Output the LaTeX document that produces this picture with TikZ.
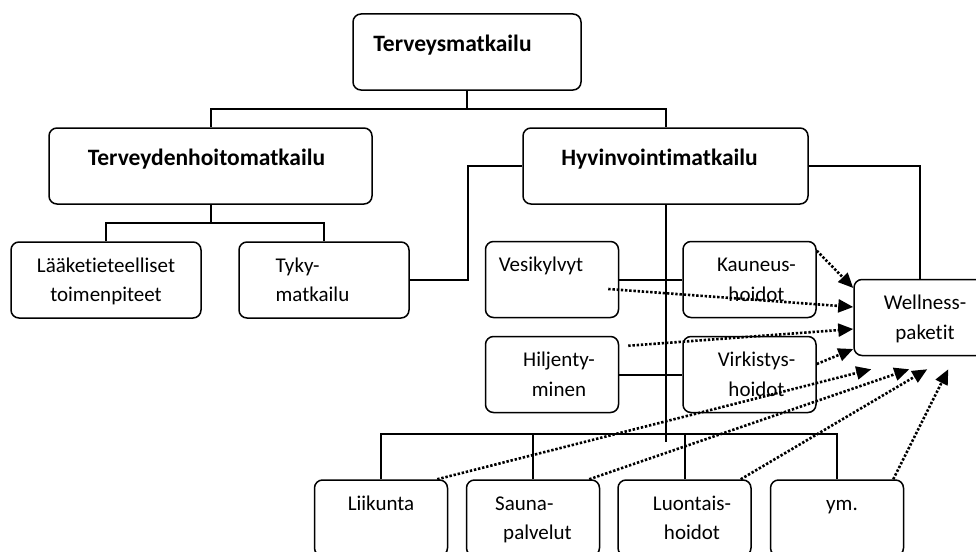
\documentclass[tikz,border=0pt]{standalone}
\usepackage{fontspec}
\setmainfont{Carlito}[Ligatures=NoCommon]
\usetikzlibrary{arrows.meta}

\begin{document}
\begin{tikzpicture}[x=1pt,y=-1pt,
  box/.style={draw,rounded corners=8pt,line width=1.5pt,minimum width=133pt,minimum height=76pt},
  txt/.style={anchor=north,inner sep=0pt,yshift=-10pt,align=center,font=\fontsize{21}{29.5}\selectfont},
  head/.style={txt,yshift=-7pt,font=\fontsize{23.5}{29.5}\selectfont\bfseries},
  link/.style={line width=2pt},
  dots/.style={line width=2.6pt,dash pattern=on 2.4pt off 1.8pt,-{Triangle[length=15pt,width=13pt]}}]
\useasboundingbox (0,0) rectangle (976,551);

% main levels
\node[box,minimum width=228pt] (top) at (467,52) {};
\node[head,xshift=-14.5pt] (top-t) at (top.north) {\strut Terveysmatkailu};
\node[box,minimum width=323pt] (hoito) at (210.5,166) {};
\node[head,xshift=-4pt] (hoito-t) at (hoito.north) {\strut Terveydenhoitomatkailu};
\node[box,minimum width=285pt] (hyvin) at (665.5,166) {};
\node[head,xshift=-6pt] (hyvin-t) at (hyvin.north) {\strut Hyvinvointimatkailu};

% left branch
\node[box,minimum width=190pt] (laake) at (106,280) {};
\node[txt] (laake-t) at (laake.north) {\strut Lääketieteelliset\\toimenpiteet};
\node[box,minimum width=170pt] (tyky) at (324,280) {};
\node[txt,align=left,xshift=-11.5pt] (tyky-t) at (tyky.north) {\strut Tyky-\\matkailu};

% right branch
\foreach \name/\x/\y in {vesi/552/279.5, kauneus/749.5/279.5, hiljenty/552/374.5, virkistys/749.5/374.5}
  \node[box] (\name) at (\x,\y) {};
\node[box,minimum width=131pt] (wellness) at (919.5,317.5) {};
\foreach \name/\x in {liikunta/381, sauna/533, luontais/684.5, ym/837}
  \node[box] (\name) at (\x,518) {};

\node[txt,xshift=-11pt] (vesi-t) at (vesi.north) {\strut Vesikylvyt};
\node[txt,xshift=7pt] (kauneus-t) at (kauneus.north) {\strut Kauneus-\\hoidot};
\node[txt,xshift=7pt] (hiljenty-t) at (hiljenty.north) {\strut Hiljenty-\\minen};
\node[txt,xshift=7pt] (virkistys-t) at (virkistys.north) {\strut Virkistys-\\hoidot};
\node[txt,xshift=5.5pt] (wellness-t) at (wellness.north) {\strut Wellness-\\paketit};
\node[txt] (liikunta-t) at (liikunta.north) {\strut Liikunta};
\node[txt,align=left,xshift=0.5pt] (sauna-t) at (sauna.north) {\strut Sauna-\\\hspace*{8pt}palvelut};
\node[txt,xshift=7.5pt] (luontais-t) at (luontais.north) {\strut Luontais-\\hoidot};
\node[txt,xshift=5pt] (ym-t) at (ym.north) {\strut ym.};

% tree lines
\draw[link] (top.south) -- ++(0,18) -| (hoito.north);
\draw[link] (top.south) -- ++(0,18) -| (hyvin.north);
\draw[link] (hoito.south) -- ++(0,18) -| (laake.north);
\draw[link] (hoito.south) -- ++(0,18) -| (tyky.north);
\draw[link] (tyky.east) -- ++(58,0) |- (hyvin.west);
\draw[link] (hyvin.east) -| (wellness.north);
\draw[link] (hyvin.south) -- ++(0,237);
\draw[link] (vesi.east) -- (kauneus.west);
\draw[link] (hiljenty.east) -- (virkistys.west);
\draw[link] (liikunta.north) -- ++(0,-45) -| (ym.north);
\foreach \name in {sauna,luontais}
  \draw[link] (\name.north) -- ++(0,-45);

% dotted arrows to wellness
\draw[dots] ([yshift=-10pt]kauneus.north east) -- ([yshift=29.5pt]wellness.west);
\draw[dots] ([xshift=-11pt,yshift=-9.5pt]vesi.east) -- ([yshift=10.5pt]wellness.west);
\draw[dots] ([xshift=9pt,yshift=-10pt]hiljenty.north east) -- ([yshift=-11.5pt]wellness.west);
\draw[dots] ([yshift=10.5pt]virkistys.east) -- ([yshift=-31.5pt]wellness.west);
\foreach \name/\dx in {liikunta/18, sauna/56, luontais/74, ym/95}
  \draw[dots] ([xshift=-11pt]\name.north east) -- ([xshift=\dx pt,yshift=-13pt]wellness.south west);
\end{tikzpicture}
\end{document}
